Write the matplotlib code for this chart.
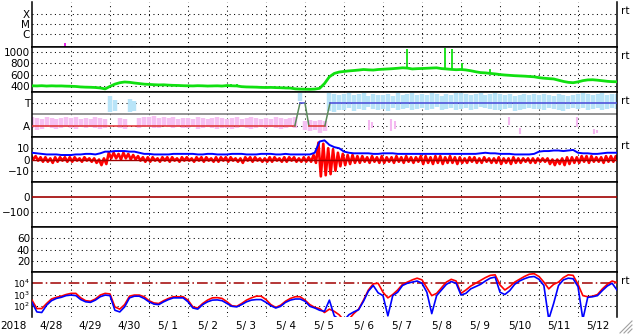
import numpy as np
import matplotlib.pyplot as plt
from matplotlib.lines import Line2D
from matplotlib.ticker import NullLocator

plt.rcParams['font.family'] = 'DejaVu Sans'
plt.rcParams['font.size'] = 7.5

# time in days from 2018-04-28 00:00 UT, 3-hourly samples
t = np.arange(121) / 8.0
day_labels = ['4/28', '4/29', '4/30', '5/ 1', '5/ 2', '5/ 3', '5/ 4', '5/ 5',
              '5/ 6', '5/ 7', '5/ 8', '5/ 9', '5/10', '5/11', '5/12']

# x-ray flares (W/m2), only a few tiny blips reach the panel
xray_t = [0.84, 2.56, 2.82]
xray_v = [1.25e-7, 7e-8, 7e-8]

# solar wind speed (km/s)
speed = [400, 398, 402, 396, 400, 397, 398, 394,
         392, 388, 380, 376, 374, 370, 362, 345,
         390, 430, 455, 468, 462, 450, 440, 430,
         425, 420, 416, 418, 412, 408, 406, 402,
         400, 398, 402, 400, 396, 398, 400, 396,
         405, 400, 398, 385, 380, 378, 376, 372,
         370, 372, 368, 366, 362, 360, 346, 342,
         340, 338, 342, 355, 440, 560, 620, 645,
         655, 665, 672, 680, 690, 684, 680, 690,
         695, 700, 705, 712, 720, 715, 700, 705,
         708, 712, 716, 720, 706, 700, 692, 686,
         690, 682, 668, 650, 635, 630, 620, 612,
         600, 592, 586, 580, 576, 572, 566, 560,
         545, 535, 528, 522, 500, 478, 462, 455,
         470, 492, 505, 508, 500, 490, 480, 474,
         472]
speed_spike_t = [5.1, 5.25, 9.62, 10.6, 10.77, 11.03, 11.74]
speed_spike_v = [440, 435, 1050, 1080, 1060, 800, 700]

# IMF sector (A=1, T=3) spread of the points, and sector line
ta_lo = [0.8, 0.6, 0.7, 0.9, 0.8, 0.7, 0.8, 0.9,
         0.8, 0.7, 0.9, 0.8, 0.9, 0.8, 0.7, 0.8,
         2.2, 2.3, 0.8, 0.7, 2.2, 2.3, 0.8, 0.9,
         0.9, 0.8, 0.8, 1.0, 0.9, 0.8, 0.9, 0.8,
         0.8, 0.9, 0.7, 0.8, 0.9, 0.8, 0.7, 0.8,
         0.8, 0.7, 0.8, 0.9, 0.8, 0.7, 0.8, 0.9,
         0.8, 0.9, 0.8, 0.7, 0.8, 0.9, 0.8, 3.2,
         0.6, 0.5, 0.6, 0.4, 0.5, 2.3, 2.2, 2.4,
         2.4, 2.6, 2.3, 2.5, 2.4, 2.7, 2.5, 2.4,
         2.5, 2.3, 2.6, 2.4, 2.5, 2.6, 2.4, 2.5,
         2.6, 2.4, 2.5, 2.7, 2.4, 2.5, 2.6, 2.4,
         2.5, 2.6, 2.4, 2.5, 2.7, 2.6, 2.5, 2.4,
         2.4, 2.5, 2.6, 2.3, 2.4, 2.5, 2.6, 2.5,
         2.5, 2.4, 2.6, 2.5, 2.4, 2.3, 2.5, 2.6,
         2.5, 2.6, 2.4, 2.5, 2.6, 2.4, 2.5, 2.6,
         2.5]
ta_hi = [1.8, 1.7, 1.6, 1.8, 1.7, 1.6, 1.7, 1.8,
         1.7, 1.8, 1.6, 1.7, 1.6, 1.8, 1.7, 1.6,
         3.6, 3.3, 1.7, 1.6, 3.4, 3.2, 1.7, 1.8,
         1.8, 1.9, 1.7, 1.8, 1.7, 1.8, 1.6, 1.7,
         1.7, 1.6, 1.8, 1.7, 1.6, 1.7, 1.8, 1.7,
         1.6, 1.7, 1.8, 1.6, 1.7, 1.8, 1.7, 1.6,
         1.7, 1.6, 1.8, 1.7, 1.6, 1.7, 1.8, 3.9,
         1.4, 1.5, 1.4, 1.5, 1.4, 3.9, 3.8, 3.7,
         3.8, 3.9, 3.7, 3.8, 3.9, 3.6, 3.8, 3.7,
         3.7, 3.8, 3.6, 3.9, 3.7, 3.8, 3.9, 3.7,
         3.8, 3.7, 3.9, 3.8, 3.6, 3.8, 3.7, 3.9,
         3.9, 3.8, 3.7, 3.8, 3.9, 3.7, 3.8, 3.9,
         3.8, 3.7, 3.8, 3.6, 3.7, 3.8, 3.7, 3.8,
         3.7, 3.8, 3.7, 3.6, 3.8, 3.7, 3.6, 3.7,
         3.8, 3.9, 3.8, 3.7, 3.8, 3.9, 3.7, 3.8,
         3.8]
ta_pink_t = [8.65, 8.72, 9.2, 9.3, 12.22, 12.5, 13.98, 14.42, 14.48]
ta_pink_lo = [0.6, 0.8, 0.5, 0.7, 1.1, 0.3, 0.9, 0.3, 0.4]
ta_pink_hi = [1.5, 1.3, 1.6, 1.4, 1.8, 0.8, 1.8, 0.7, 0.6]
sector_t = [0, 6.74, 6.87, 7.0, 7.1, 7.51, 7.64, 15]
sector_v = [1, 1, 3, 3, 1, 1, 3, 3]

# IMF Bt and Bz range (nT)
bt = [6, 5.5, 5, 4.5, 4.5, 4.5, 4, 4,
      4, 4.5, 4.5, 5, 5, 4.5, 5.5, 7,
      7, 7.5, 7.5, 7.5, 7, 7, 6, 5,
      5, 4.5, 4.5, 4.5, 4.5, 5, 5, 5,
      5, 5, 4.5, 4.5, 5, 5, 4.5, 4.5,
      4.5, 5, 5, 5, 4.5, 4.5, 4.5, 5,
      5, 5, 4.5, 4.5, 5, 4.5, 4.5, 4.5,
      4.5, 4.5, 6, 16, 17, 13, 11, 10,
      7, 6, 5.5, 5.5, 5.5, 5.5, 5, 5,
      5.5, 5.5, 5.5, 5, 5, 5, 5, 5,
      5, 5, 5, 5, 5, 5, 5, 5,
      5, 5, 5, 5, 5.5, 6, 5.5, 5.5,
      5, 5, 5, 4.5, 4.5, 4.5, 4.5, 5,
      7, 7.5, 7.5, 8, 8, 7.5, 8, 8.5,
      6, 5.5, 5.5, 5, 5, 5.5, 6, 6,
      6]
bz_lo = [0, -1, -2, -2, -3, -2, -1, -2,
         -2, -1, -2, -1, -2, -3, -5, -4,
         1, 1, 0, 1, 0, 0, -1, -2,
         -2, -1, -2, -1, -2, -1, -2, -1,
         -1, -2, -1, -2, -1, -2, -2, -1,
         -2, -1, -2, -3, -1, -2, -1, -2,
         -2, -2, -1, -2, -2, -1, -2, -2,
         -2, -2, -3, -15, -14, -13, -10, -6,
         -5, -4, -3, -3, -2, -3, -2, -3,
         -3, -2, -3, -2, -3, -2, -3, -2,
         -4, -3, -4, -3, -4, -3, -3, -4,
         -3, -3, -2, -3, -3, -2, -3, -3,
         -4, -3, -4, -3, -3, -2, -3, -3,
         -2, -2, -4, -5, -4, -5, -4, -3,
         -3, -2, -3, -2, -2, -3, -2, -2,
         -2]
bz_hi = [4, 3, 2, 2, 1, 2, 2, 2,
         2, 2, 1, 2, 1, 1, 0, 1,
         6, 6, 5, 6, 5, 4, 3, 2,
         2, 2, 1, 2, 2, 2, 1, 2,
         2, 1, 2, 2, 2, 1, 2, 2,
         2, 2, 1, 1, 2, 2, 2, 1,
         1, 2, 2, 1, 2, 2, 2, 1,
         2, 2, 4, 15, 14, 10, 9, 6,
         5, 4, 4, 3, 3, 2, 3, 2,
         3, 2, 2, 3, 2, 3, 2, 2,
         3, 3, 2, 3, 3, 2, 3, 2,
         2, 1, 2, 2, 1, 2, 1, 1,
         2, 1, 1, 2, 1, 1, 1, 1,
         1, 1, 1, 0, 0, 1, 2, 2,
         2, 3, 3, 3, 2, 2, 3, 3,
         3]

# >2 MeV electron flux, log10 (red and blue channels)
e_red_log = [2.5, 1.75, 1.75, 2.2, 2.6, 2.75, 2.85, 3.0,
             3.1, 3.1, 2.7, 2.45, 2.4, 2.6, 2.95, 3.1,
             3.05, 1.9, 1.7, 2.1, 2.85, 2.95, 2.95, 2.8,
             2.45, 2.25, 2.2, 2.45, 2.65, 2.8, 2.8, 2.8,
             2.5, 1.9, 1.8, 2.2, 2.5, 2.7, 2.72, 2.65,
             2.35, 2.0, 1.95, 2.2, 2.5, 2.7, 2.85, 2.85,
             2.55, 2.1, 1.85, 2.05, 2.4, 2.65, 2.8, 2.8,
             2.5, 2.1, 1.85, 1.75, 1.4, 1.7, 1.5, 1.2,
             0.7, 0.8, 1.3, 1.7, 2.5, 3.4, 3.95, 4.0,
             3.2, 2.7, 3.0, 3.4, 3.9, 4.1, 4.3, 4.45,
             4.3, 3.6, 2.9, 3.1, 3.6, 4.1, 4.35, 4.2,
             3.1, 3.4, 3.75, 4.0, 4.25, 4.5, 4.7, 4.75,
             3.85, 3.4, 3.7, 4.1, 4.35, 4.6, 4.8, 4.85,
             4.6, 4.1, 3.5, 3.9, 4.1, 4.5, 4.75, 4.7,
             3.9, 2.9, 2.8, 2.85, 3.0, 3.5, 3.9, 4.2,
             4.05]
e_blue_log = [2.3, 1.45, 1.4, 2.05, 2.45, 2.65, 2.75, 2.9,
              2.95, 2.9, 2.55, 2.35, 2.3, 2.5, 2.8, 2.95,
              2.9, 1.6, 1.45, 1.9, 2.7, 2.85, 2.85, 2.65,
              2.35, 2.15, 2.1, 2.35, 2.55, 2.7, 2.7, 2.7,
              2.35, 1.8, 1.7, 2.1, 2.35, 2.5, 2.52, 2.45,
              2.2, 1.95, 1.9, 2.1, 2.35, 2.5, 2.55, 2.55,
              2.3, 2.0, 1.8, 1.95, 2.3, 2.5, 2.6, 2.6,
              2.4, 1.95, 1.8, 1.6, 1.5, 2.5, 1.1, 0.8,
              0.7, 1.2, 1.45, 1.65, 2.4, 3.3, 3.8, 3.15,
              2.9, 1.1, 2.9, 3.2, 3.8, 4.0, 4.1, 4.2,
              4.0, 3.2, 1.3, 2.9, 3.4, 3.9, 4.15, 4.0,
              2.95, 3.1, 3.5, 3.7, 3.9, 4.2, 4.45, 4.55,
              3.2, 3.0, 3.35, 3.9, 4.2, 4.4, 4.55, 4.6,
              4.35, 3.8, 0.8, 2.2, 3.8, 4.3, 4.45, 4.4,
              3.7, 0.8, 2.75, 2.8, 2.9, 3.35, 3.75, 4.0,
              3.4]

DOT = (0, (1, 3.3))
DARKRED = '#a00000'


def frame(ax, levels):
    ax.set_xlim(0, 15)
    for s in ax.spines.values():
        s.set_linewidth(1.1)
        s.set_color('black')
    ax.tick_params(length=0, pad=1.5, labelsize=7.5)
    for lv in levels:
        ax.axhline(lv, color='black', ls=DOT, lw=0.75, zorder=0.5)
    for d in range(1, 15):
        ax.axvline(d, color='black', ls=DOT, lw=0.75, zorder=0.5)


fig, axes = plt.subplots(7, 1, figsize=(6.33, 3.34), dpi=100, sharex=True)
fig.subplots_adjust(left=32/633, right=617/633, top=1-2/334, bottom=1-317/334, hspace=0)
ax1, ax2, ax3, ax4, ax5, ax6, ax7 = axes

# x-ray
ax1.set_yscale('log')
ax1.set_ylim(10**-7.3, 10**-2.8)
ax1.yaxis.set_minor_locator(NullLocator())
ax1.set_yticks([1e-6, 1e-5, 1e-4], ['C', 'M', 'X'])
frame(ax1, [1e-6, 1e-5, 1e-4])
ax1.spines['top'].set_visible(False)
ax1.vlines(xray_t, 10**-7.3, xray_v, color='#e000e0', lw=1.2)

# solar wind speed
ax2.set_ylim(290, 1090)
ax2.set_yticks([400, 600, 800, 1000])
frame(ax2, [400, 600, 800, 1000])
ax2.plot(t, speed, color='#10e010', lw=2.0, zorder=3)
base = np.interp(speed_spike_t, t, speed)
ax2.vlines(speed_spike_t, base, speed_spike_v, color='#10e010', lw=1.3, zorder=3)

# IMF sector
ax3.set_ylim(0, 4)
ax3.set_yticks([1, 3], ['A', 'T'])
frame(ax3, [1, 3])
ta_lo_a = np.array(ta_lo)
ta_hi_a = np.array(ta_hi)
toward = (ta_lo_a + ta_hi_a) / 2 > 2
ax3.vlines(t[~toward], ta_lo_a[~toward], ta_hi_a[~toward], color='#f6c0f2', lw=3.2, zorder=1)
ax3.vlines(t[toward], ta_lo_a[toward], ta_hi_a[toward], color='#b8e4f8', lw=3.2, zorder=1)
ax3.vlines(ta_pink_t, ta_pink_lo, ta_pink_hi, color='#f4b8f0', lw=1.5, zorder=1)
ax3.axhline(2, color='#808080', lw=1.2, zorder=2)
for i in range(len(sector_t) - 1):
    v0, v1 = sector_v[i], sector_v[i + 1]
    if v0 == v1 == 1:
        c = '#e03030'
    elif v0 == v1 == 3:
        c = '#4848d8'
    else:
        c = '#5a8a5a'
    ax3.plot(sector_t[i:i + 2], sector_v[i:i + 2], color=c, lw=1.1, zorder=3)

# IMF Bt / Bz: Bz drawn as a jagged trace running between its low and high values
zig_t = np.column_stack([t - 1/32, t + 1/32]).ravel()
zig_v = np.column_stack([bz_hi, bz_lo]).ravel()
ax4.set_ylim(-20, 20)
ax4.set_yticks([-10, 0, 10])
frame(ax4, [-10, 10])
ax4.plot(zig_t, zig_v, color='#ff0000', lw=1.9, zorder=2)
ax4.plot(t, bt, color='#0000ff', lw=1.4, zorder=3)
ax4.axhline(0, color=DARKRED, lw=1.0, zorder=4)

# Dst
ax5.set_ylim(-200, 100)
ax5.set_yticks([-100, 0])
frame(ax5, [-100])
ax5.axhline(0, color=DARKRED, lw=1.2, zorder=4)

# AE / Kp style panel (empty)
ax6.set_ylim(0, 80)
ax6.set_yticks([20, 40, 60])
frame(ax6, [20, 40, 60])

# electron flux
ax7.set_yscale('log')
ax7.set_ylim(10, 1e5)
ax7.yaxis.set_minor_locator(NullLocator())
ax7.set_yticks([1e2, 1e3, 1e4], [r'$10^2$', r'$10^3$', r'$10^4$'])
frame(ax7, [1e2, 1e3])
ax7.tick_params(axis='y', labelsize=6.6)
ax7.axhline(1e4, color=DARKRED, lw=1.1, ls=(0, (7, 2, 1, 2)), zorder=2)
ax7.plot(t, 10 ** np.array(e_red_log), color='#ff0000', lw=1.2, zorder=3)
ax7.plot(t, 10 ** np.array(e_blue_log), color='#0000ff', lw=1.2, zorder=4)
ax7.spines['bottom'].set_visible(False)
ax7.set_xticks(np.arange(15) + 0.5, day_labels)
ax7.tick_params(axis='x', pad=3)
ax7.annotate('2018', xy=(0, 0), xycoords='axes fraction', xytext=(-4, -3),
             textcoords='offset points', ha='right', va='top', fontsize=7.5)

for ax in (ax1, ax2, ax3, ax4, ax7):
    ax.text(1.006, 0.79, 'rt', transform=ax.transAxes, ha='left', va='center', fontsize=7.5)

# resize grip in the corner
for k in range(3):
    x0 = 620 + 4 * k
    fig.add_artist(Line2D([x0 / 633, 632 / 633], [1 - 333 / 334, 1 - (333 - (632 - x0)) / 334],
                          color='#a0a0a0', lw=0.8))

fig.savefig('out.png', dpi=100)
